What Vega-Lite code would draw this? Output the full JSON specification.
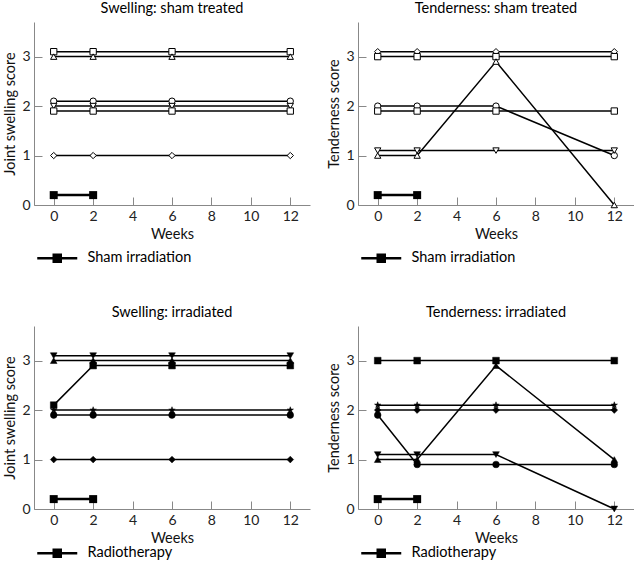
{
  "$schema": "https://vega.github.io/schema/vega-lite/v6.json",
  "padding": {"left": 2, "top": 0, "right": 0, "bottom": 0},
  "background": "white",
  "datasets": {
    "swell_sham": [
      {"series": "P1", "week": 0, "score": 3.1}, {"series": "P1", "week": 2, "score": 3.1}, {"series": "P1", "week": 6, "score": 3.1}, {"series": "P1", "week": 12, "score": 3.1},
      {"series": "P2", "week": 0, "score": 3.0}, {"series": "P2", "week": 2, "score": 3.0}, {"series": "P2", "week": 6, "score": 3.0}, {"series": "P2", "week": 12, "score": 3.0},
      {"series": "P3", "week": 0, "score": 2.1}, {"series": "P3", "week": 2, "score": 2.1}, {"series": "P3", "week": 6, "score": 2.1}, {"series": "P3", "week": 12, "score": 2.1},
      {"series": "P4", "week": 0, "score": 2.0}, {"series": "P4", "week": 2, "score": 2.0}, {"series": "P4", "week": 6, "score": 2.0}, {"series": "P4", "week": 12, "score": 2.0},
      {"series": "P5", "week": 0, "score": 1.9}, {"series": "P5", "week": 2, "score": 1.9}, {"series": "P5", "week": 6, "score": 1.9}, {"series": "P5", "week": 12, "score": 1.9},
      {"series": "P6", "week": 0, "score": 1.0}, {"series": "P6", "week": 2, "score": 1.0}, {"series": "P6", "week": 6, "score": 1.0}, {"series": "P6", "week": 12, "score": 1.0}
    ],
    "tender_sham": [
      {"series": "P1", "week": 0, "score": 3.1}, {"series": "P1", "week": 2, "score": 3.1}, {"series": "P1", "week": 6, "score": 3.1}, {"series": "P1", "week": 12, "score": 3.1},
      {"series": "P2", "week": 0, "score": 3.0}, {"series": "P2", "week": 2, "score": 3.0}, {"series": "P2", "week": 6, "score": 3.0}, {"series": "P2", "week": 12, "score": 3.0},
      {"series": "P3", "week": 0, "score": 2.0}, {"series": "P3", "week": 2, "score": 2.0}, {"series": "P3", "week": 6, "score": 2.0}, {"series": "P3", "week": 12, "score": 1.0},
      {"series": "P4", "week": 0, "score": 1.9}, {"series": "P4", "week": 2, "score": 1.9}, {"series": "P4", "week": 6, "score": 1.9}, {"series": "P4", "week": 12, "score": 1.9},
      {"series": "P5", "week": 0, "score": 1.1}, {"series": "P5", "week": 2, "score": 1.1}, {"series": "P5", "week": 6, "score": 1.1}, {"series": "P5", "week": 12, "score": 1.1},
      {"series": "P6", "week": 0, "score": 1.0}, {"series": "P6", "week": 2, "score": 1.0}, {"series": "P6", "week": 6, "score": 2.9}, {"series": "P6", "week": 12, "score": 0.0}
    ],
    "swell_irr": [
      {"series": "P1", "week": 0, "score": 3.1}, {"series": "P1", "week": 2, "score": 3.1}, {"series": "P1", "week": 6, "score": 3.1}, {"series": "P1", "week": 12, "score": 3.1},
      {"series": "P2", "week": 0, "score": 3.0}, {"series": "P2", "week": 2, "score": 3.0}, {"series": "P2", "week": 6, "score": 3.0}, {"series": "P2", "week": 12, "score": 3.0},
      {"series": "P3", "week": 0, "score": 2.1}, {"series": "P3", "week": 2, "score": 2.9}, {"series": "P3", "week": 6, "score": 2.9}, {"series": "P3", "week": 12, "score": 2.9},
      {"series": "P4", "week": 0, "score": 2.0}, {"series": "P4", "week": 2, "score": 2.0}, {"series": "P4", "week": 6, "score": 2.0}, {"series": "P4", "week": 12, "score": 2.0},
      {"series": "P5", "week": 0, "score": 1.9}, {"series": "P5", "week": 2, "score": 1.9}, {"series": "P5", "week": 6, "score": 1.9}, {"series": "P5", "week": 12, "score": 1.9},
      {"series": "P6", "week": 0, "score": 1.0}, {"series": "P6", "week": 2, "score": 1.0}, {"series": "P6", "week": 6, "score": 1.0}, {"series": "P6", "week": 12, "score": 1.0}
    ],
    "tender_irr": [
      {"series": "P1", "week": 0, "score": 3.0}, {"series": "P1", "week": 2, "score": 3.0}, {"series": "P1", "week": 6, "score": 3.0}, {"series": "P1", "week": 12, "score": 3.0},
      {"series": "P2", "week": 0, "score": 2.1}, {"series": "P2", "week": 2, "score": 2.1}, {"series": "P2", "week": 6, "score": 2.1}, {"series": "P2", "week": 12, "score": 2.1},
      {"series": "P3", "week": 0, "score": 2.0}, {"series": "P3", "week": 2, "score": 2.0}, {"series": "P3", "week": 6, "score": 2.0}, {"series": "P3", "week": 12, "score": 2.0},
      {"series": "P4", "week": 0, "score": 1.9}, {"series": "P4", "week": 2, "score": 0.9}, {"series": "P4", "week": 6, "score": 0.9}, {"series": "P4", "week": 12, "score": 0.9},
      {"series": "P5", "week": 0, "score": 1.0}, {"series": "P5", "week": 2, "score": 1.0}, {"series": "P5", "week": 6, "score": 2.9}, {"series": "P5", "week": 12, "score": 1.0},
      {"series": "P6", "week": 0, "score": 1.1}, {"series": "P6", "week": 2, "score": 1.1}, {"series": "P6", "week": 6, "score": 1.1}, {"series": "P6", "week": 12, "score": 0.0}
    ],
    "sham_period": [
      {"treatment": "Sham irradiation", "week": 0, "score": 0.2},
      {"treatment": "Sham irradiation", "week": 2, "score": 0.2}
    ],
    "radio_period": [
      {"treatment": "Radiotherapy", "week": 0, "score": 0.2},
      {"treatment": "Radiotherapy", "week": 2, "score": 0.2}
    ]
  },
  "spacing": 37,
  "resolve": {"scale": {"color": "independent", "shape": "independent"}, "legend": {"color": "independent", "shape": "independent"}},
  "vconcat": [
    {
      "spacing": 16,
      "resolve": {"scale": {"color": "independent", "shape": "independent"}, "legend": {"color": "independent", "shape": "independent"}},
      "hconcat": [
        {
          "width": 276, "height": 183,
          "title": "Swelling: sham treated",
          "encoding": {
            "x": {"field": "week", "type": "quantitative", "scale": {"domain": [-1, 13], "nice": false, "zero": false}, "axis": {"values": [0, 2, 4, 6, 8, 10, 12], "title": "Weeks"}},
            "y": {"field": "score", "type": "quantitative", "scale": {"domain": [0, 3.7], "nice": false}, "axis": {"values": [0, 1, 2, 3], "title": "Joint swelling score"}}
          },
          "layer": [
            {"data": {"name": "swell_sham"}, "mark": {"type": "line", "color": "black", "strokeWidth": 1.5}, "encoding": {"detail": {"field": "series", "type": "nominal"}}},
            {"data": {"name": "swell_sham"}, "mark": {"type": "point", "filled": true, "fill": "white", "stroke": "black", "strokeWidth": 1, "size": 40, "opacity": 1},
             "encoding": {"shape": {"field": "series", "type": "nominal", "scale": {"domain": ["P1", "P2", "P3", "P4", "P5", "P6"], "range": ["square", "triangle-up", "circle", "triangle-down", "square", "diamond"]}, "legend": null}}},
            {"data": {"name": "sham_period"}, "mark": {"type": "line", "strokeWidth": 2.5, "point": {"shape": "square", "size": 64, "filled": true, "fill": "black", "opacity": 1}},
             "encoding": {"color": {"field": "treatment", "type": "nominal", "scale": {"range": ["black"]},
               "legend": {"title": null, "orient": "none", "legendX": 16, "legendY": 229, "padding": 0, "labelFont": "Lato", "labelFontSize": 14.5, "labelColor": "black", "labelOffset": 23, "symbolType": "M-8,0H8M-1.4,-1.4H1.4V1.4H-1.4Z", "symbolSize": 25, "symbolStrokeWidth": 2.5,
                 "encode": {"symbols": {"update": {"fill": {"value": "black"}, "stroke": {"value": "black"}, "strokeWidth": {"value": 2.5}, "opacity": {"value": 1}}}}}}}}
          ]
        },
        {
          "width": 276, "height": 183,
          "title": "Tenderness: sham treated",
          "encoding": {
            "x": {"field": "week", "type": "quantitative", "scale": {"domain": [-1, 13], "nice": false, "zero": false}, "axis": {"values": [0, 2, 4, 6, 8, 10, 12], "title": "Weeks"}},
            "y": {"field": "score", "type": "quantitative", "scale": {"domain": [0, 3.7], "nice": false}, "axis": {"values": [0, 1, 2, 3], "title": "Tenderness score"}}
          },
          "layer": [
            {"data": {"name": "tender_sham"}, "mark": {"type": "line", "color": "black", "strokeWidth": 1.5}, "encoding": {"detail": {"field": "series", "type": "nominal"}}},
            {"data": {"name": "tender_sham"}, "mark": {"type": "point", "filled": true, "fill": "white", "stroke": "black", "strokeWidth": 1, "size": 40, "opacity": 1},
             "encoding": {"shape": {"field": "series", "type": "nominal", "scale": {"domain": ["P1", "P2", "P3", "P4", "P5", "P6"], "range": ["diamond", "square", "circle", "square", "triangle-down", "triangle-up"]}, "legend": null}}},
            {"data": {"name": "sham_period"}, "mark": {"type": "line", "strokeWidth": 2.5, "point": {"shape": "square", "size": 64, "filled": true, "fill": "black", "opacity": 1}},
             "encoding": {"color": {"field": "treatment", "type": "nominal", "scale": {"range": ["black"]},
               "legend": {"title": null, "orient": "none", "legendX": 16, "legendY": 229, "padding": 0, "labelFont": "Lato", "labelFontSize": 14.5, "labelColor": "black", "labelOffset": 23, "symbolType": "M-8,0H8M-1.4,-1.4H1.4V1.4H-1.4Z", "symbolSize": 25, "symbolStrokeWidth": 2.5,
                 "encode": {"symbols": {"update": {"fill": {"value": "black"}, "stroke": {"value": "black"}, "strokeWidth": {"value": 2.5}, "opacity": {"value": 1}}}}}}}}
          ]
        }
      ]
    },
    {
      "spacing": 16,
      "resolve": {"scale": {"color": "independent", "shape": "independent"}, "legend": {"color": "independent", "shape": "independent"}},
      "hconcat": [
        {
          "width": 276, "height": 183,
          "title": "Swelling: irradiated",
          "encoding": {
            "x": {"field": "week", "type": "quantitative", "scale": {"domain": [-1, 13], "nice": false, "zero": false}, "axis": {"values": [0, 2, 4, 6, 8, 10, 12], "title": "Weeks"}},
            "y": {"field": "score", "type": "quantitative", "scale": {"domain": [0, 3.7], "nice": false}, "axis": {"values": [0, 1, 2, 3], "title": "Joint swelling score"}}
          },
          "layer": [
            {"data": {"name": "swell_irr"}, "mark": {"type": "line", "color": "black", "strokeWidth": 1.5}, "encoding": {"detail": {"field": "series", "type": "nominal"}}},
            {"data": {"name": "swell_irr"}, "mark": {"type": "point", "filled": true, "fill": "black", "stroke": "black", "strokeWidth": 0.5, "size": 45, "opacity": 1},
             "encoding": {"shape": {"field": "series", "type": "nominal", "scale": {"domain": ["P1", "P2", "P3", "P4", "P5", "P6"], "range": ["triangle-down", "triangle-up", "square", "M0,-1L0.235,-0.324L0.951,-0.309L0.38,0.124L0.588,0.809L0,0.4L-0.588,0.809L-0.38,0.124L-0.951,-0.309L-0.235,-0.324Z", "circle", "diamond"]}, "legend": null}}},
            {"data": {"name": "radio_period"}, "mark": {"type": "line", "strokeWidth": 2.5, "point": {"shape": "square", "size": 64, "filled": true, "fill": "black", "opacity": 1}},
             "encoding": {"color": {"field": "treatment", "type": "nominal", "scale": {"range": ["black"]},
               "legend": {"title": null, "orient": "none", "legendX": 16, "legendY": 220, "padding": 0, "labelFont": "Lato", "labelFontSize": 14.5, "labelColor": "black", "labelOffset": 23, "symbolType": "M-8,0H8M-1.4,-1.4H1.4V1.4H-1.4Z", "symbolSize": 25, "symbolStrokeWidth": 2.5,
                 "encode": {"symbols": {"update": {"fill": {"value": "black"}, "stroke": {"value": "black"}, "strokeWidth": {"value": 2.5}, "opacity": {"value": 1}}}}}}}}
          ]
        },
        {
          "width": 276, "height": 183,
          "title": "Tenderness: irradiated",
          "encoding": {
            "x": {"field": "week", "type": "quantitative", "scale": {"domain": [-1, 13], "nice": false, "zero": false}, "axis": {"values": [0, 2, 4, 6, 8, 10, 12], "title": "Weeks"}},
            "y": {"field": "score", "type": "quantitative", "scale": {"domain": [0, 3.7], "nice": false}, "axis": {"values": [0, 1, 2, 3], "title": "Tenderness score"}}
          },
          "layer": [
            {"data": {"name": "tender_irr"}, "mark": {"type": "line", "color": "black", "strokeWidth": 1.5}, "encoding": {"detail": {"field": "series", "type": "nominal"}}},
            {"data": {"name": "tender_irr"}, "mark": {"type": "point", "filled": true, "fill": "black", "stroke": "black", "strokeWidth": 0.5, "size": 45, "opacity": 1},
             "encoding": {"shape": {"field": "series", "type": "nominal", "scale": {"domain": ["P1", "P2", "P3", "P4", "P5", "P6"], "range": ["square", "M0,-1L0.235,-0.324L0.951,-0.309L0.38,0.124L0.588,0.809L0,0.4L-0.588,0.809L-0.38,0.124L-0.951,-0.309L-0.235,-0.324Z", "diamond", "circle", "triangle-up", "triangle-down"]}, "legend": null}}},
            {"data": {"name": "radio_period"}, "mark": {"type": "line", "strokeWidth": 2.5, "point": {"shape": "square", "size": 64, "filled": true, "fill": "black", "opacity": 1}},
             "encoding": {"color": {"field": "treatment", "type": "nominal", "scale": {"range": ["black"]},
               "legend": {"title": null, "orient": "none", "legendX": 16, "legendY": 220, "padding": 0, "labelFont": "Lato", "labelFontSize": 14.5, "labelColor": "black", "labelOffset": 23, "symbolType": "M-8,0H8M-1.4,-1.4H1.4V1.4H-1.4Z", "symbolSize": 25, "symbolStrokeWidth": 2.5,
                 "encode": {"symbols": {"update": {"fill": {"value": "black"}, "stroke": {"value": "black"}, "strokeWidth": {"value": 2.5}, "opacity": {"value": 1}}}}}}}}
          ]
        }
      ]
    }
  ],
  "config": {
    "font": "Lato",
    "view": {"stroke": null},
    "title": {"fontSize": 14.5, "fontWeight": "normal", "color": "black", "offset": 6, "font": "Lato"},
    "axis": {"grid": false, "domainColor": "#888", "tickColor": "#888", "tickSize": -8, "labelFont": "Lato", "labelFontSize": 14, "labelColor": "#222", "titleFont": "Lato", "titleFontSize": 14.5, "titleFontWeight": "normal", "titleColor": "#111"},
    "axisX": {"labelPadding": 12, "titlePadding": 4},
    "axisY": {"labelPadding": 12, "titlePadding": 4}
  }
}
